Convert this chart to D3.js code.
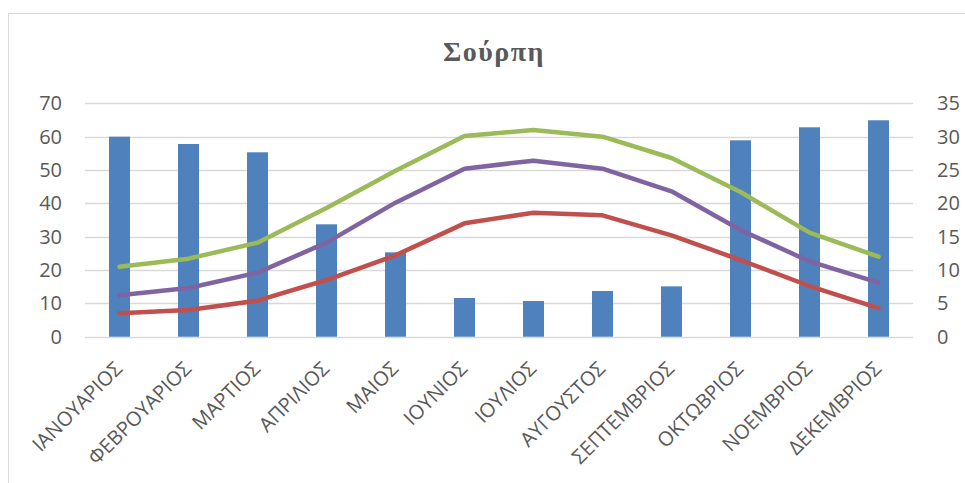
<!DOCTYPE html>
<html lang="el">
<head>
  <meta charset="UTF-8">
  <title>Σούρπη</title>
  <script src="https://d3js.org/d3.v7.min.js"></script>
  <style>
    body { margin: 0; background: #fff; }
    svg text { font-family: "Open Sans", "Noto Sans", sans-serif; fill: #595959; }
  </style>
</head>
<body>
  <div id="chart"></div>
  <script>
    var months = ["ΙΑΝΟΥΑΡΙΟΣ", "ΦΕΒΡΟΥΑΡΙΟΣ", "ΜΑΡΤΙΟΣ", "ΑΠΡΙΛΙΟΣ", "ΜΑΙΟΣ", "ΙΟΥΝΙΟΣ",
      "ΙΟΥΛΙΟΣ", "ΑΥΓΟΥΣΤΟΣ", "ΣΕΠΤΕΜΒΡΙΟΣ", "ΟΚΤΩΒΡΙΟΣ", "ΝΟΕΜΒΡΙΟΣ", "ΔΕΚΕΜΒΡΙΟΣ"];
    // rainfall (left axis)
    var rain = [60, 57.8, 55.3, 33.7, 25.3, 11.6, 10.7, 13.7, 15.1, 58.9, 62.8, 64.9];
    // temperatures (right axis)
    var tMax = [10.5, 11.7, 14.1, 19.3, 24.9, 30.1, 31.0, 30.0, 26.8, 21.7, 15.6, 12.0];
    var tMean = [6.2, 7.3, 9.6, 14.1, 20.1, 25.2, 26.4, 25.2, 21.8, 16.0, 11.3, 8.1];
    var tMin = [3.5, 4.0, 5.4, 8.5, 12.2, 17.0, 18.6, 18.2, 15.2, 11.5, 7.6, 4.3];
    var leftTicks = [0, 10, 20, 30, 40, 50, 60, 70];
    var rightTicks = [0, 5, 10, 15, 20, 25, 30, 35];

    var width = 965, height = 483;
    var plot = { left: 85, right: 913, top: 103.3, bottom: 336.7 };

    var svg = d3.select("#chart").append("svg")
      .attr("width", width)
      .attr("height", height);

    svg.append("rect")
      .attr("x", 8.5).attr("y", 13.5)
      .attr("width", width).attr("height", height)
      .attr("fill", "none")
      .attr("stroke", "#d9d9d9");

    svg.append("text")
      .attr("x", 494).attr("y", 61)
      .attr("text-anchor", "middle")
      .style("font-family", "'Liberation Serif', 'DejaVu Serif', serif")
      .style("font-weight", "bold")
      .style("font-size", "28px")
      .style("letter-spacing", "1.5px")
      .text("Σούρπη");

    var xc = d3.scaleBand().domain(months).range([plot.left, plot.right]);
    var yL = d3.scaleLinear().domain([0, 70]).range([plot.bottom, plot.top]);
    var yR = d3.scaleLinear().domain([0, 35]).range([plot.bottom, plot.top]);

    // gridlines
    svg.append("g")
      .selectAll("line")
      .data(leftTicks)
      .join("line")
      .attr("x1", plot.left).attr("x2", plot.right)
      .attr("y1", function (d) { return Math.round(yL(d)) + 0.5; })
      .attr("y2", function (d) { return Math.round(yL(d)) + 0.5; })
      .attr("stroke", "#d9d9d9")
      .attr("stroke-width", 1.3);

    // left axis
    var axL = svg.append("g")
      .attr("transform", "translate(" + plot.left + ",0)")
      .call(d3.axisLeft(yL).tickValues(leftTicks).tickSize(0).tickPadding(23));
    axL.select(".domain").remove();
    axL.selectAll("text").style("font-size", "20px").style("fill", "#595959");

    // right axis
    var axR = svg.append("g")
      .attr("transform", "translate(" + plot.right + ",0)")
      .call(d3.axisRight(yR).tickValues(rightTicks).tickSize(0).tickPadding(24));
    axR.select(".domain").remove();
    axR.selectAll("text").style("font-size", "20px").style("fill", "#595959");

    // bars
    svg.append("g")
      .selectAll("rect")
      .data(rain)
      .join("rect")
      .attr("x", function (d, i) { return xc(months[i]) + xc.bandwidth() / 2 - 10.5; })
      .attr("width", 21)
      .attr("y", function (d) { return yL(d); })
      .attr("height", function (d) { return yL(0) - yL(d); })
      .attr("fill", "#4f81bd");

    // lines
    var line = d3.line()
      .x(function (d, i) { return xc(months[i]) + xc.bandwidth() / 2; })
      .y(function (d) { return yR(d); });

    var series = [
      { values: tMin, color: "#c0504d" },
      { values: tMean, color: "#8064a2" },
      { values: tMax, color: "#9bbb59" }
    ];
    svg.append("g")
      .selectAll("path")
      .data(series)
      .join("path")
      .attr("d", function (s) { return line(s.values); })
      .attr("fill", "none")
      .attr("stroke", function (s) { return s.color; })
      .attr("stroke-width", 4.5)
      .attr("stroke-linecap", "round")
      .attr("stroke-linejoin", "round");

    // month labels
    svg.append("g")
      .selectAll("text")
      .data(months)
      .join("text")
      .attr("transform", function (d) {
        return "translate(" + (xc(d) + xc.bandwidth() / 2 + 4) + ",370) rotate(-45)";
      })
      .attr("text-anchor", "end")
      .style("font-size", "20px")
      .text(function (d) { return d; });
  </script>
</body>
</html>
